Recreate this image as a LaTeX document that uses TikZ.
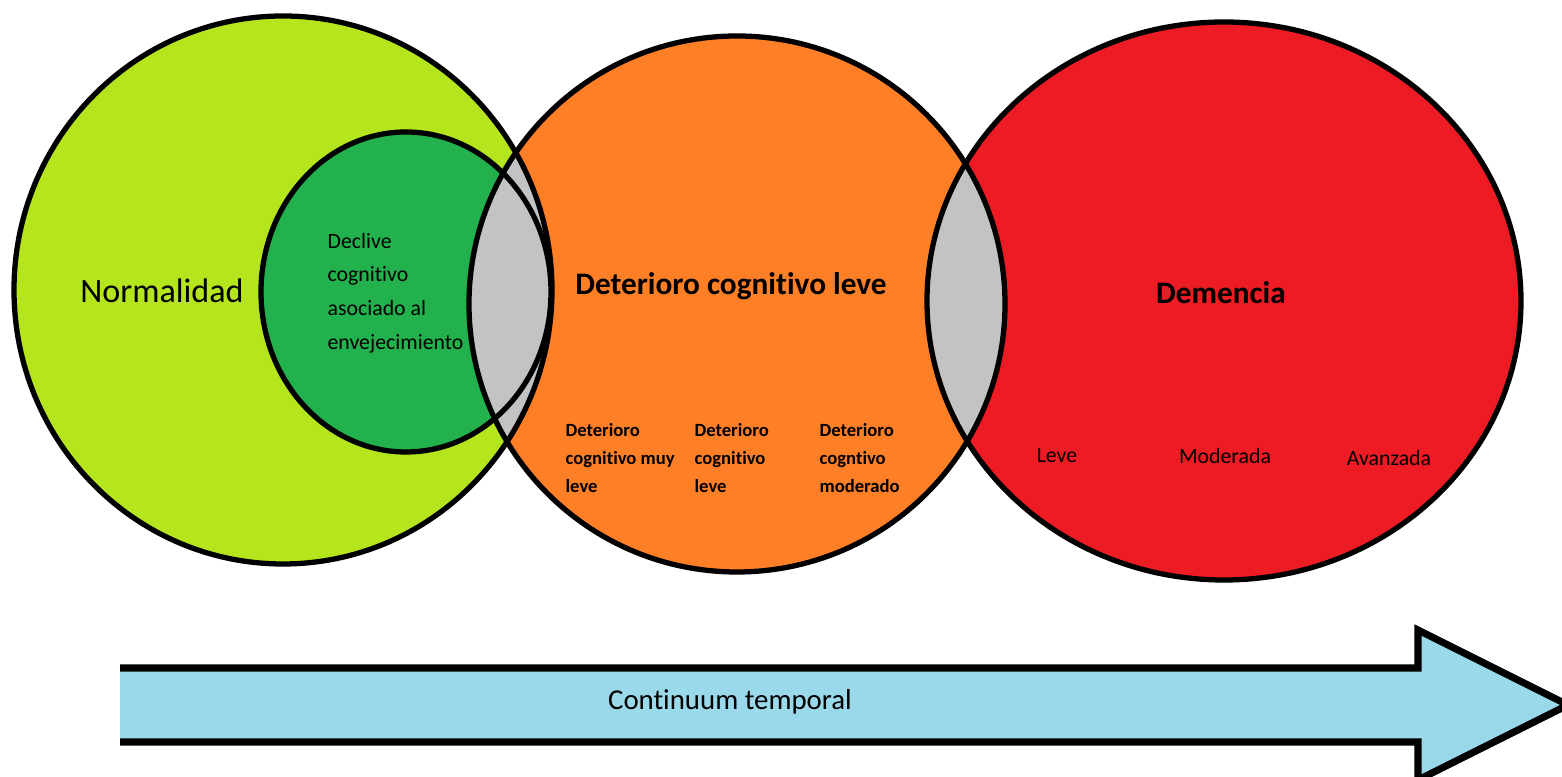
\documentclass[tikz,border=0pt]{standalone}
\usepackage{fontspec}
\setmainfont{Carlito}[Ligatures=NoCommon]
\usepackage{tikz}
\usetikzlibrary{positioning, calc}

\begin{document}
\begin{tikzpicture}[x=0.01cm, y=-0.01cm, line width=1.5pt,
    biglabel/.style={font=\bfseries\fontsize{8.9}{11}\selectfont},
    sublabel/.style={font=\bfseries\fontsize{5.3}{8}\selectfont, align=left, anchor=north west, inner sep=0pt},
    phaselabel/.style={font=\fontsize{6.2}{8}\selectfont, inner sep=0pt}]
  % Define constants (pixel units, y pointing down)
  \def\rdcl{268}

  % Define colors for the stages
  \definecolor{normalgreen}{RGB}{181, 230, 29}
  \definecolor{declivegreen}{RGB}{34, 177, 76}
  \definecolor{dclorange}{RGB}{255, 127, 39}
  \definecolor{demred}{RGB}{237, 28, 36}
  \definecolor{overlapgray}{RGB}{195, 195, 195}
  \definecolor{timeblue}{RGB}{153, 217, 234}

  \useasboundingbox (0,0) rectangle (1562,777);

  % Define key coordinates as centres of the circles
  \coordinate (normal) at (283,290);
  \coordinate (declive) at (406,292);
  \coordinate (dcl) at (737,304);
  \coordinate (demencia) at (1224,301);

  % Fill the stages
  \fill[normalgreen] (normal) ellipse[x radius=269, y radius=274];
  \fill[declivegreen] (declive) ellipse[x radius=145, y radius=160];
  \fill[dclorange] (dcl) circle[radius=\rdcl];
  \fill[demred] (demencia) ellipse[x radius=297, y radius=279];

  % Overlapping zones in gray
  \begin{scope}
    \clip (normal) ellipse[x radius=269, y radius=274];
    \fill[overlapgray] (dcl) circle[radius=\rdcl];
  \end{scope}
  \begin{scope}
    \clip (dcl) circle[radius=\rdcl];
    \fill[overlapgray] (demencia) ellipse[x radius=297, y radius=279];
  \end{scope}

  % Outlines
  \draw (normal) ellipse[x radius=269, y radius=274];
  \draw (declive) ellipse[x radius=145, y radius=160];
  \draw (dcl) circle[radius=\rdcl];
  \draw (demencia) ellipse[x radius=297, y radius=279];

  % Labels of the stages
  \node[font=\fontsize{9.7}{11}\selectfont] (normalidad) at (162,291) {Normalidad};
  \node[font=\fontsize{6.2}{9.6}\selectfont, align=left, anchor=west, inner sep=0pt] (declivetxt) at (325,293)
    {Declive\\cognitivo\\asociado al\\envejecimiento};
  \node[biglabel] (dcltxt) at (731,286) {Deterioro cognitivo leve};
  \node[biglabel] (demtxt) at (1221,293) {Demencia};

  % Sub-stages of DCL
  \node[sublabel] (dclmuyleve) at (563,421) {Deterioro\\cognitivo muy\\leve};
  \node[sublabel] (dclleve) at (692,421) {Deterioro\\cognitivo\\leve};
  \node[sublabel] (dclmoderado) at (817,421) {Deterioro\\cogntivo\\moderado};

  % Sub-stages of dementia
  \node[phaselabel] (demleve) at (1057,456) {Leve};
  \node[phaselabel] (demmoderada) at (1225,456) {Moderada};
  \node[phaselabel] (demavanzada) at (1389,458) {Avanzada};

  % Time arrow
  \coordinate (tailtop) at (120,668);
  \coordinate (tailbot) at (120,742);
  \coordinate (tip) at (1568,705);
  \fill[timeblue] (tailtop) -- (1418,668) -- (1418,630) -- (tip) -- (1418,780) -- (1418,742) -- (tailbot) -- cycle;
  \draw[line width=2pt, line join=miter] (tailtop) -- (1418,668) -- (1418,630) -- (tip) -- (1418,780) -- (1418,742) -- (tailbot);
  \node[font=\fontsize{8.2}{10}\selectfont] (continuum) at (730,702) {Continuum temporal};
\end{tikzpicture}
\end{document}
